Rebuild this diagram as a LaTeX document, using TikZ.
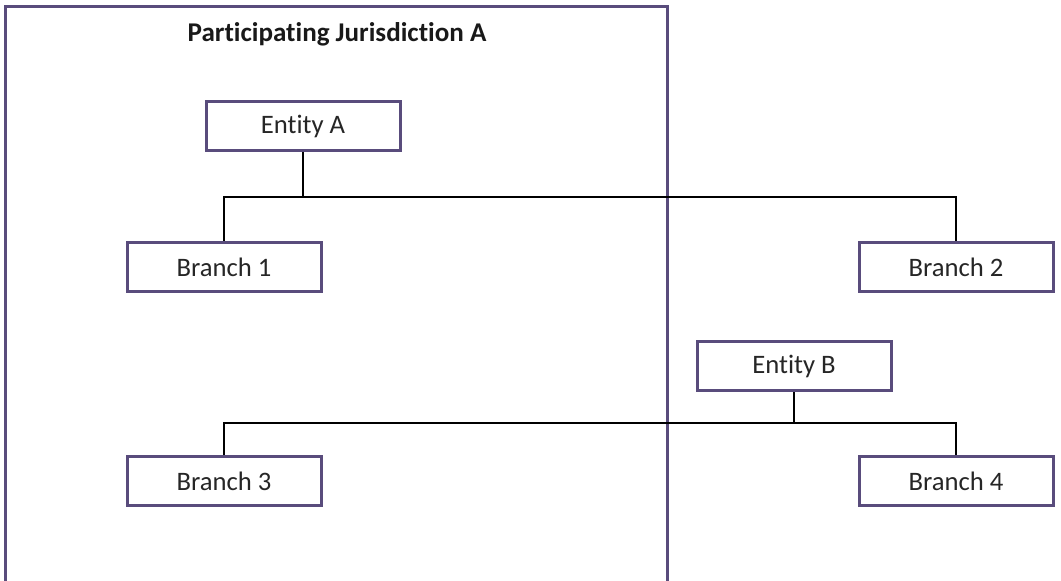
\documentclass[tikz,border=0pt]{standalone}
\usepackage{fontspec}
\setmainfont{Carlito}[RawFeature=-liga]
\definecolor{jurpurple}{RGB}{89,76,124}
\tikzset{
  unitbox/.style={draw=jurpurple, line width=2.25pt, fill=white, inner sep=0pt,
    minimum width=145.5pt, minimum height=36.75pt, text=black!85,
    font=\fontsize{20}{24}\selectfont},
  link/.style={line width=1.5pt, black}
}

\begin{document}
\begin{tikzpicture}[x=0.75pt, y=-0.75pt]
        \useasboundingbox (0,0) rectangle (1061,581);
        % jurisdiction frame
        \draw[jurpurple, line width=2.25pt] (5,581) -- (5,7) -- (667,7) -- (667,581);
        \node[font=\bfseries\fontsize{20.3}{24}\selectfont, text=black!90] (title) at (337,34) {Participating Jurisdiction A};
        % entities
        \node[unitbox] (entA) at (303,126) {Entity A};
        \node[unitbox] (entB) at (794,366) {Entity B};
        % branches
        \node[unitbox] (br1) at (224,267) {Branch 1};
        \node[unitbox] (br2) at (956,267) {Branch 2};
        \node[unitbox] (br3) at (224,481) {Branch 3};
        \node[unitbox] (br4) at (956,481) {Branch 4};
        % connectors
        \coordinate (busA) at (303,197);
        \coordinate (busB) at (794,423);
        \draw[link] (entA.south) -- (busA);
        \draw[link] (br1.north) |- (busA) -| (br2.north);
        \draw[link] (entB.south) -- (busB);
        \draw[link] (br3.north) |- (busB) -| (br4.north);
\end{tikzpicture}
\end{document}
